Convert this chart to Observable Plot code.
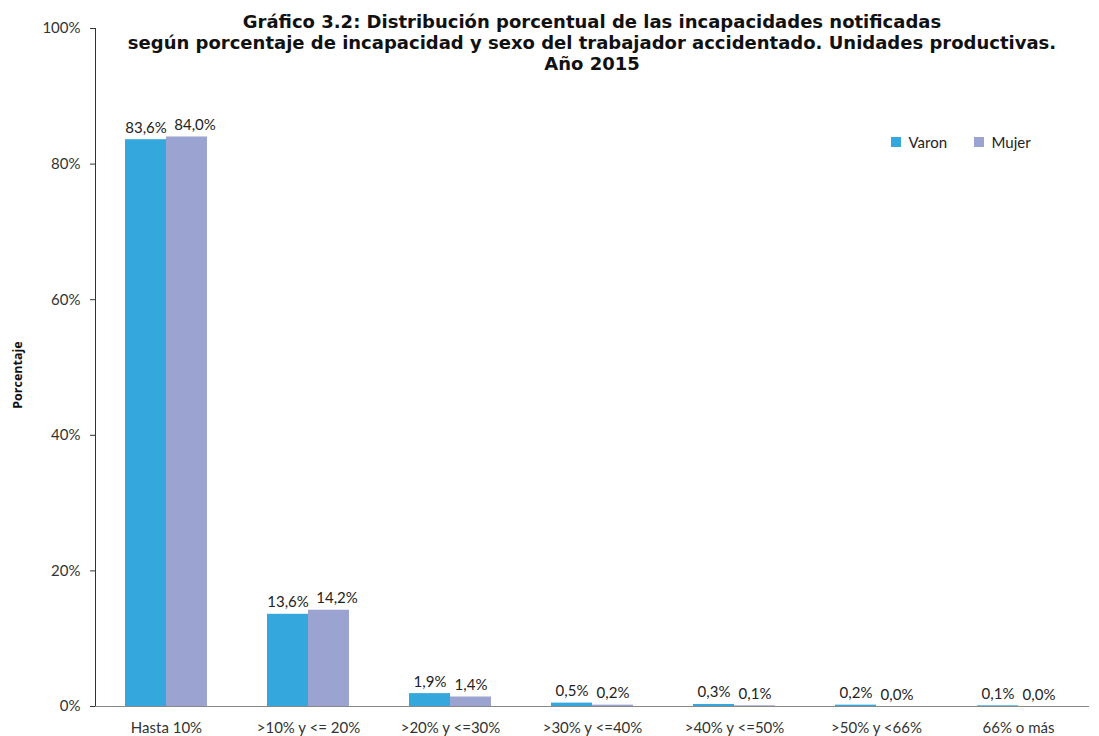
<!DOCTYPE html>
<html>
<head>
<meta charset="utf-8">
<script src="https://cdn.jsdelivr.net/npm/d3@7"></script>
<script src="https://cdn.jsdelivr.net/npm/@observablehq/plot@0.6"></script>
<style>
  body { margin: 0; background: #fff; }
  #wrap { position: relative; width: 1099px; height: 736px; }
  #title { position: absolute; left: 92px; width: 1000px; top: 11px; text-align: center;
    font-family: "DejaVu Sans", sans-serif; font-weight: 700; font-size: 18px; line-height: 21px; color: #111; }
  #ylab { position: absolute; left: 17px; top: 375px; transform: translate(-50%, -50%) rotate(-90deg);
    font-family: "Open Sans", sans-serif; font-weight: 700; font-size: 12.5px; color: #111; white-space: nowrap; }
  #legend { position: absolute; left: 891px; top: 125px; width: 200px; white-space: nowrap; }
  #legend [class*="-swatch"] { margin-right: 1.8em !important; }
</style>
</head>
<body>
<div id="wrap">
  <div id="chart"></div>
  <div id="title">Gráfico 3.2: Distribución porcentual de las incapacidades notificadas<br>según porcentaje de incapacidad y sexo del trabajador accidentado. Unidades productivas.<br>Año 2015</div>
  <div id="ylab">Porcentaje</div>
  <div id="legend"></div>
</div>
<script>
const categories = ["Hasta 10%", ">10% y <= 20%", ">20% y <=30%", ">30% y <=40%", ">40% y <=50%", ">50% y <66%", "66% o más"];
const series = ["Varon", "Mujer"];
const varon = [83.6, 13.6, 1.9, 0.5, 0.3, 0.2, 0.1];
const mujer = [84.0, 14.2, 1.4, 0.2, 0.1, 0.0, 0.0];
const yTicks = [0, 20, 40, 60, 80, 100];
const colors = ["#34A8DC", "#9BA3D0"];

const data = categories.flatMap((c, i) => [
  {category: c, sex: "Varon", value: varon[i]},
  {category: c, sex: "Mujer", value: mujer[i]}
]);
const fmt = v => v.toFixed(1).replace(".", ",") + "%";
const wide = d => d.sex === "Mujer" && d.value >= 10;

const plot = Plot.plot({
  width: 1099, height: 736,
  marginLeft: 92, marginRight: 7, marginTop: 28, marginBottom: 30,
  style: {fontFamily: "Lato, sans-serif", fontSize: "15px", color: "#333", background: "transparent"},
  facet: {data, x: "category"},
  fx: {domain: categories, padding: 0, label: null, tickSize: 0, tickPadding: 16, axis: "bottom"},
  x: {domain: series, paddingInner: 0, paddingOuter: 0.7, axis: null},
  y: {domain: [0, 100], ticks: yTicks, tickFormat: d => d + "%", tickSize: 5, tickPadding: 10, label: null, line: true},
  color: {domain: series, range: colors},
  marks: [
    Plot.barY(data, {x: "sex", y: "value", fill: "sex"}),
    Plot.ruleY([0], {stroke: "#888"}),
    Plot.text(data, {filter: d => !wide(d), x: "sex", y: "value", text: d => fmt(d.value), lineAnchor: "bottom", dy: -7, fill: "#222", fontSize: 15}),
    Plot.text(data, {filter: wide, x: "sex", y: "value", text: d => fmt(d.value), lineAnchor: "bottom", dy: -7, dx: 8, fill: "#222", fontSize: 15})
  ]
});
document.getElementById("chart").appendChild(plot);
const leg = plot.legend("color", {swatchSize: 10, style: {fontFamily: "Lato, sans-serif", fontSize: "15px", color: "#222"}});
document.getElementById("legend").appendChild(leg);
</script>
</body>
</html>
